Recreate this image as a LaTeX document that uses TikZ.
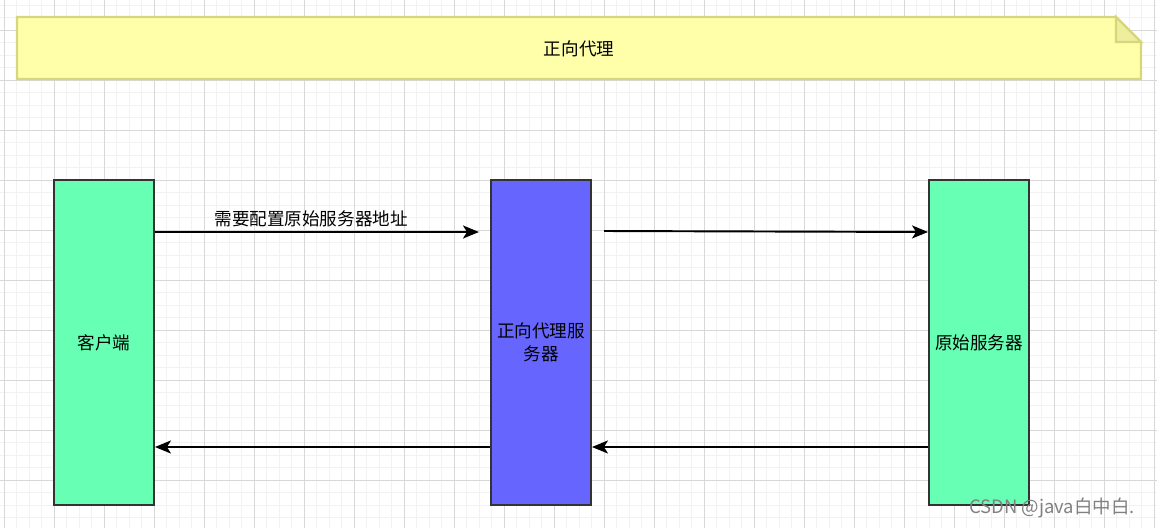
\documentclass[tikz,border=0pt]{standalone}
\usepackage{fontspec}
\setmainfont{Noto Sans CJK SC}
\usetikzlibrary{arrows.meta}

\definecolor{notefill}{HTML}{FFFFAA}
\definecolor{noteline}{HTML}{D6D67C}
\definecolor{notefold}{HTML}{EEEE9E}
\definecolor{hostgreen}{HTML}{66FFB3}
\definecolor{proxyblue}{HTML}{6666FF}
\definecolor{boxline}{HTML}{333333}
\definecolor{gridminor}{HTML}{F2F2F2}
\definecolor{gridmajor}{HTML}{D8D8D8}

\tikzset{
  host/.style={draw=boxline, line width=1.1pt, fill=hostgreen, minimum width=2cm, minimum height=6.5cm, inner sep=2pt, align=center},
  flow/.style={->, line width=1.1pt},
}

\begin{document}
\begin{tikzpicture}[x=0.02cm, y=-0.02cm, every node/.style={font=\fontsize{10}{13}\selectfont}, >={Stealth[length=3.2mm, width=2.6mm, inset=0.8mm]}]
	\useasboundingbox (0,0) rectangle (1157,528);
	% background grid
	\foreach \x in {4,16.5,...,1157} \draw[gridminor, line width=0.4pt] (\x,0) -- (\x,528);
	\foreach \y in {5,17.5,...,528} \draw[gridminor, line width=0.4pt] (0,\y) -- (1157,\y);
	\foreach \x in {4,54,...,1154} \draw[gridmajor, line width=0.4pt] (\x,0) -- (\x,528);
	\foreach \y in {30,80,...,480} \draw[gridmajor, line width=0.4pt] (0,\y) -- (1157,\y);
	% note
	\draw[noteline, fill=notefill, line width=1.3pt, line join=miter] (17,17) -- (1116,17) -- (1141,42) -- (1141,79) -- (17,79) -- cycle;
	\draw[noteline, fill=notefold, line width=1.3pt] (1116,17) -- (1116,42) -- (1141,42) -- cycle;
	\node (title) at (579,49) {正向代理};
	% hosts
	\node[host] (client) at (104,342.5) {客户端};
	\node[host, fill=proxyblue] (proxy) at (541,342.5) {正向代理服\\务器};
	\node[host] (origin) at (979,342.5) {原始服务器};
	\coordinate (reqend) at (479,232);
	\coordinate (fwdstart) at (604,231);
	% requests
	\draw[flow] (client.east |- reqend) -- (reqend) node[midway, above=-1pt, xshift=-3.3pt] (hint) {需要配置原始服务器地址};
	\draw[flow] (fwdstart) -- (origin.west |- reqend);
	% responses
	\draw[flow] (origin.west |- 0,447) -- (proxy.east |- 0,447);
	\draw[flow] (proxy.west |- 0,447) -- (client.east |- 0,447);
	\node[gray, anchor=east, font=\fontsize{10.5}{13}\selectfont] (mark) at (1141,508) {CSDN @java白中白.};
\end{tikzpicture}
\end{document}
